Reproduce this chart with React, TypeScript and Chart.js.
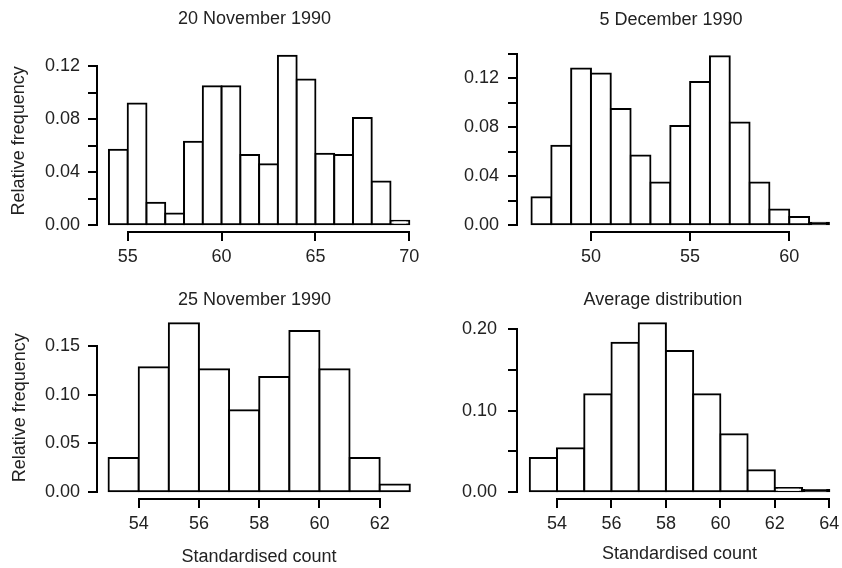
import React, { useEffect, useRef } from 'react';
import { Chart, registerables } from 'chart.js';

Chart.register(...registerables);

const FONT = "'Liberation Sans', Arial, Helvetica, sans-serif";
const TEXT_COLOR = '#222';
const LINE_COLOR = '#000';

// ---- 20 November 1990 ----
const nov20Edges = [54, 55, 56, 57, 58, 59, 60, 61, 62, 63, 64, 65, 66, 67, 68, 69, 70];
const nov20Freq = [0.057, 0.092, 0.017, 0.009, 0.063, 0.105, 0.105, 0.053, 0.046, 0.128, 0.110, 0.054, 0.053, 0.081, 0.033, 0.0035];
const nov20XTicks = [55, 60, 65, 70];
const nov20YTicks = [0, 0.02, 0.04, 0.06, 0.08, 0.1, 0.12];
const nov20YLabels = [0, 0.04, 0.08, 0.12];

// ---- 5 December 1990 ----
const dec5Edges = [47, 48, 49, 50, 51, 52, 53, 54, 55, 56, 57, 58, 59, 60, 61, 62];
const dec5Freq = [0.023, 0.065, 0.128, 0.124, 0.095, 0.057, 0.035, 0.081, 0.117, 0.138, 0.084, 0.035, 0.013, 0.0068, 0.002];
const dec5XTicks = [50, 55, 60];
const dec5YTicks = [0, 0.02, 0.04, 0.06, 0.08, 0.1, 0.12, 0.14];
const dec5YLabels = [0, 0.04, 0.08, 0.12];

// ---- 25 November 1990 ----
const nov25Edges = [53, 54, 55, 56, 57, 58, 59, 60, 61, 62, 63];
const nov25Freq = [0.035, 0.128, 0.173, 0.126, 0.084, 0.118, 0.165, 0.126, 0.035, 0.008];
const nov25XTicks = [54, 56, 58, 60, 62];
const nov25YTicks = [0, 0.05, 0.1, 0.15];
const nov25YLabels = [0, 0.05, 0.1, 0.15];

// ---- Average distribution ----
const avgEdges = [53, 54, 55, 56, 57, 58, 59, 60, 61, 62, 63, 64];
const avgFreq = [0.042, 0.054, 0.120, 0.183, 0.207, 0.173, 0.120, 0.071, 0.027, 0.0053, 0.0029];
const avgXTicks = [54, 56, 58, 60, 62, 64];
const avgYTicks = [0, 0.05, 0.1, 0.15, 0.2];
const avgYLabels = [0, 0.1, 0.2];

const Y_TITLE = 'Relative frequency';
const X_TITLE = 'Standardised count';

type PanelSpec = {
  title: string;
  edges: number[];
  freq: number[];
  xTicks: number[];
  yTicks: number[];
  yLabels: number[];
  xRange: [number, number];
  yRange: [number, number];
  yTitle?: string;
  xTitle?: string;
  left: number;
  top: number;
  width: number;
  rightSpace: number;
  yWidth: number;
  xHeight: number;
  titlePad: { top: number; bottom: number };
  yLabelPad: number;
  yTitlePad: number;
  xTitlePadBottom: number;
};

const rAxisLines = {
  id: 'rAxisLines',
  afterDraw(chart: any) {
    const { ctx, chartArea, scales } = chart;
    const xs = scales.x;
    const ys = scales.y;
    const xt = xs.ticks;
    const yt = ys.ticks;
    ctx.save();
    ctx.strokeStyle = LINE_COLOR;
    ctx.lineWidth = 2;
    ctx.lineCap = 'square';
    ctx.beginPath();
    const yb = Math.round(chartArea.bottom);
    ctx.moveTo(Math.round(xs.getPixelForValue(xt[0].value)), yb);
    ctx.lineTo(Math.round(xs.getPixelForValue(xt[xt.length - 1].value)), yb);
    const xl = Math.round(chartArea.left);
    ctx.moveTo(xl, Math.round(ys.getPixelForValue(yt[0].value)));
    ctx.lineTo(xl, Math.round(ys.getPixelForValue(yt[yt.length - 1].value)));
    ctx.stroke();
    ctx.restore();
  },
};

const H = 284;

function Panel({ spec }: { spec: PanelSpec }) {
  const ref = useRef<HTMLCanvasElement | null>(null);
  useEffect(() => {
    if (!ref.current) return;
    const points = spec.freq.map((f, i) => ({ x: (spec.edges[i] + spec.edges[i + 1]) / 2, y: f }));
    const font = { family: FONT, size: 18, weight: 'normal' as const, lineHeight: 1.2 };
    const chart = new Chart(ref.current, {
      type: 'bar',
      data: {
        datasets: [
          {
            data: points as any,
            backgroundColor: (c: any) => {
              const ys = c.chart.scales.y;
              if (!ys || !c.raw) return '#ffffff';
              const hpx = ys.getPixelForValue(0) - ys.getPixelForValue(c.raw.y);
              return hpx < 4 ? LINE_COLOR : '#ffffff';
            },
            borderColor: LINE_COLOR,
            borderWidth: 2,
            borderSkipped: false,
            inflateAmount: 1,
            barPercentage: 1,
            categoryPercentage: 1,
          } as any,
        ],
      },
      options: {
        animation: false,
        responsive: false,
        devicePixelRatio: 1,
        layout: { padding: 0, autoPadding: false },
        plugins: {
          legend: { display: false },
          tooltip: { enabled: false },
          title: {
            display: true,
            text: spec.title,
            color: TEXT_COLOR,
            font,
            padding: spec.titlePad,
          },
        },
        scales: {
          x: {
            type: 'linear',
            min: spec.xRange[0],
            max: spec.xRange[1],
            bounds: 'data',
            offset: false,
            afterBuildTicks: (s: any) => {
              s.ticks = spec.xTicks.map((v) => ({ value: v }));
            },
            afterFit: (s: any) => {
              s.height = spec.xHeight;
              s.paddingLeft = 0;
              s.paddingRight = 0;
            },
            grid: { offset: false, drawOnChartArea: false, drawTicks: true, tickLength: 9, color: LINE_COLOR, lineWidth: 2 },
            border: { display: false },
            ticks: {
              color: TEXT_COLOR,
              font,
              padding: 5,
              maxRotation: 0,
              minRotation: 0,
              autoSkip: false,
              callback: (v: any) => String(v),
            },
            title: {
              display: !!spec.xTitle,
              text: spec.xTitle || '',
              color: TEXT_COLOR,
              font,
              padding: { top: 0, bottom: spec.xTitlePadBottom },
            },
          },
          y: {
            type: 'linear',
            position: 'left',
            min: spec.yRange[0],
            max: spec.yRange[1],
            bounds: 'data',
            afterBuildTicks: (s: any) => {
              s.ticks = spec.yTicks.map((v) => ({ value: v }));
            },
            afterFit: (s: any) => {
              s.width = spec.yWidth;
              s.paddingTop = 0;
              s.paddingBottom = 0;
            },
            grid: { drawOnChartArea: false, drawTicks: true, tickLength: 9, color: LINE_COLOR, lineWidth: 2 },
            border: { display: false },
            ticks: {
              color: TEXT_COLOR,
              font,
              padding: spec.yLabelPad,
              autoSkip: false,
              callback: (v: any) => (spec.yLabels.some((l) => Math.abs(l - Number(v)) < 1e-9) ? Number(v).toFixed(2) : ''),
            },
            title: {
              display: !!spec.yTitle,
              text: spec.yTitle || '',
              color: TEXT_COLOR,
              font,
              padding: { top: spec.yTitlePad, bottom: 0 },
            },
          },
          space: {
            type: 'linear',
            position: 'right',
            display: true,
            grid: { display: false, drawTicks: false },
            border: { display: false },
            ticks: { display: false },
            afterFit: (s: any) => {
              s.width = spec.rightSpace;
              s.paddingTop = 0;
              s.paddingBottom = 0;
            },
          },
        },
      } as any,
      plugins: [rAxisLines],
    });
    return () => chart.destroy();
  }, [spec]);
  return (
    <canvas
      ref={ref}
      width={spec.width}
      height={H}
      style={{ position: 'absolute', left: spec.left, top: spec.top, width: spec.width, height: H }}
    />
  );
}

const panels: PanelSpec[] = [
  {
    title: '20 November 1990',
    edges: nov20Edges,
    freq: nov20Freq,
    xTicks: nov20XTicks,
    yTicks: nov20YTicks,
    yLabels: nov20YLabels,
    xRange: [53.365, 70.623],
    yRange: [-0.00513, 0.1326],
    yTitle: Y_TITLE,
    left: 0,
    top: 0,
    width: 509,
    rightSpace: 88,
    yWidth: 97,
    xHeight: 51.9,
    titlePad: { top: 8, bottom: 20 },
    yLabelPad: 8,
    yTitlePad: 8.2,
    xTitlePadBottom: 0,
  },
  {
    title: '5 December 1990',
    edges: dec5Edges,
    freq: dec5Freq,
    xTicks: dec5XTicks,
    yTicks: dec5YTicks,
    yLabels: dec5YLabels,
    xRange: [46.27, 62.66],
    yRange: [-0.00555, 0.14343],
    left: 421,
    top: 0,
    width: 500,
    rightSpace: 79,
    yWidth: 96,
    xHeight: 51.9,
    titlePad: { top: 9, bottom: 19 },
    yLabelPad: 9,
    yTitlePad: 0,
    xTitlePadBottom: 0,
  },
  {
    title: '25 November 1990',
    edges: nov25Edges,
    freq: nov25Freq,
    xTicks: nov25XTicks,
    yTicks: nov25YTicks,
    yLabels: nov25YLabels,
    xRange: [52.616, 63.371],
    yRange: [-0.00696, 0.1799],
    yTitle: Y_TITLE,
    xTitle: X_TITLE,
    left: 0,
    top: 284,
    width: 509,
    rightSpace: 88,
    yWidth: 97,
    xHeight: 68.9,
    titlePad: { top: 5, bottom: 5.9 },
    yLabelPad: 8,
    yTitlePad: 9,
    xTitlePadBottom: 0.5,
  },
  {
    title: 'Average distribution',
    edges: avgEdges,
    freq: avgFreq,
    xTicks: avgXTicks,
    yTicks: avgYTicks,
    yLabels: avgYLabels,
    xRange: [52.531, 64.466],
    yRange: [-0.00833, 0.2153],
    xTitle: X_TITLE,
    left: 421,
    top: 284,
    width: 484,
    rightSpace: 63,
    yWidth: 96,
    xHeight: 68.9,
    titlePad: { top: 5, bottom: 5.9 },
    yLabelPad: 11,
    yTitlePad: 0,
    xTitlePadBottom: 3,
  },
];

export default function App() {
  return (
    <div
      style={{
        position: 'fixed',
        left: 0,
        top: 0,
        width: 842,
        height: 568,
        overflow: 'hidden',
        background: '#ffffff',
      }}
    >
      {panels.map((p) => (
        <Panel key={p.title} spec={p} />
      ))}
    </div>
  );
}
